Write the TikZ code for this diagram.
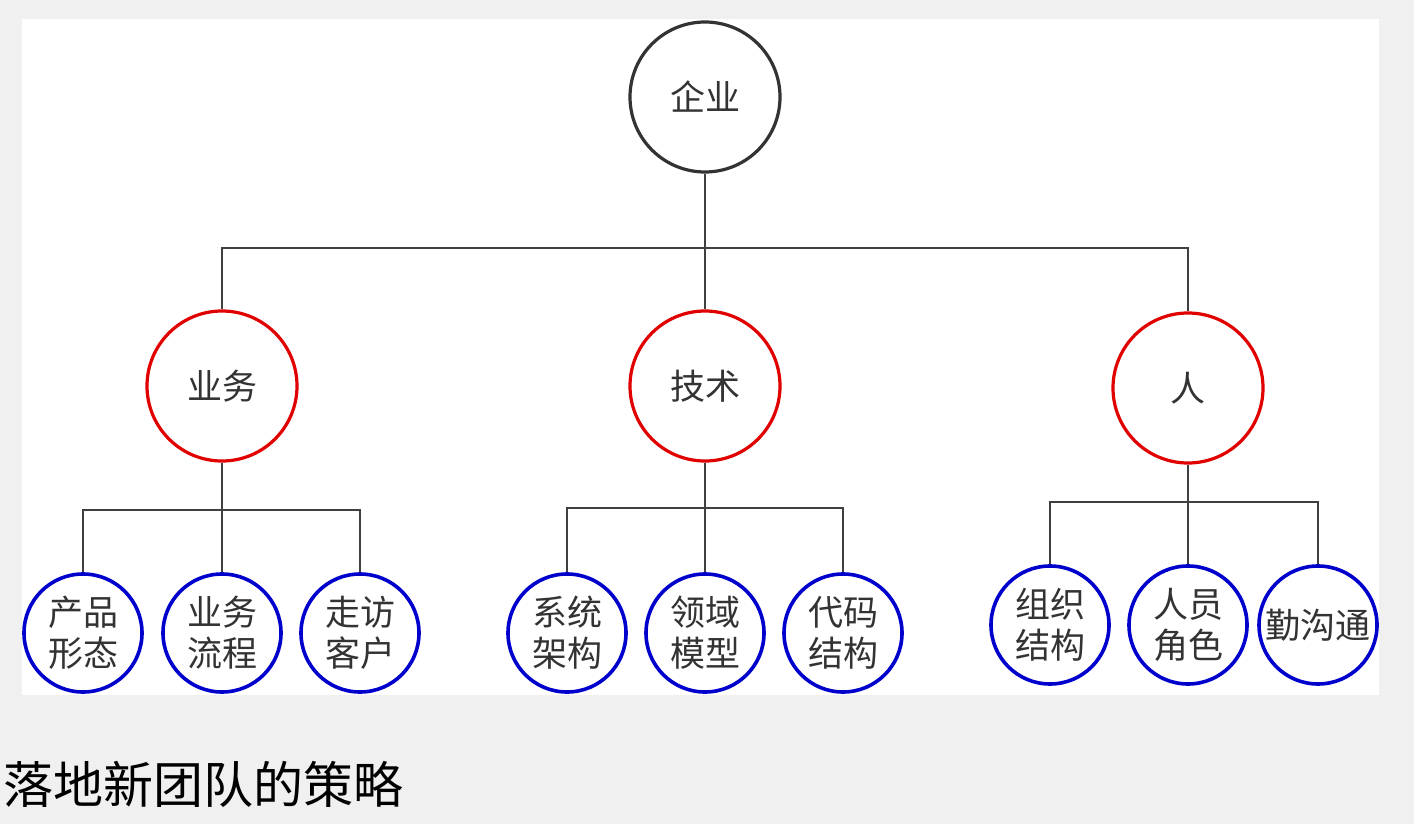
\documentclass[tikz,border=0pt]{standalone}
\usepackage{fontspec}
\setmainfont{Noto Sans CJK SC}
\begin{document}
\begin{tikzpicture}[x=1pt,y=-1pt,
  topnode/.style={circle,draw=black!80,line width=3.2pt,minimum size=150pt,inner sep=0pt,text=black!80,font=\fontsize{35}{40}\selectfont},
  midnode/.style={circle,draw=red!88!black,line width=3.2pt,minimum size=150pt,inner sep=0pt,text=black!80,font=\fontsize{35}{40}\selectfont},
  leaf/.style={circle,draw=blue!80!black,line width=3.6pt,minimum size=118pt,inner sep=0pt,align=center,text=black!80,font=\fontsize{35}{41}\selectfont},
  link/.style={draw=black!75,line width=2.5pt}]
  % background and panel
  \fill[black!6] (0,0) rectangle (1414,824);
  \fill[white] (22,19) rectangle (1379,695);
  \useasboundingbox (0,0) rectangle (1414,824);
  % nodes
  \node[topnode] (qy) at (705,97) {企业};
  \node[midnode] (yw) at (222,386) {业务};
  \node[midnode] (js) at (705,386) {技术};
  \node[midnode] (rn) at (1188,388) {人};
  \node[leaf] (cp) at (83,633) {产品\\形态};
  \node[leaf] (lc) at (222,633) {业务\\流程};
  \node[leaf] (kh) at (360,633) {走访\\客户};
  \node[leaf] (jg) at (567,633) {系统\\架构};
  \node[leaf] (mx) at (705,633) {领域\\模型};
  \node[leaf] (dm) at (843,633) {代码\\结构};
  \node[leaf] (zz) at (1050,625) {组织\\结构};
  \node[leaf] (js2) at (1188,625) {人员\\角色};
  \node[leaf] (gt) at (1318,625) {勤沟通};
  % connectors
  \coordinate (bar0) at (705,248);
  \coordinate (bar1) at (222,510);
  \coordinate (bar2) at (705,508);
  \coordinate (bar3) at (1188,502);
  \draw[link] (qy.south) -- (js.north);
  \draw[link] (yw.north) |- (bar0) -| (rn.north);
  \draw[link] (yw.south) -- (lc.north);
  \draw[link] (cp.north) |- (bar1) -| (kh.north);
  \draw[link] (js.south) -- (mx.north);
  \draw[link] (jg.north) |- (bar2) -| (dm.north);
  \draw[link] (rn.south) -- (js2.north);
  \draw[link] (zz.north) |- (bar3) -| (gt.north);
  % caption
  \node[anchor=west,inner sep=0pt,font=\fontsize{50}{54}\selectfont] (cap) at (3,784) {落地新团队的策略};
\end{tikzpicture}
\end{document}
